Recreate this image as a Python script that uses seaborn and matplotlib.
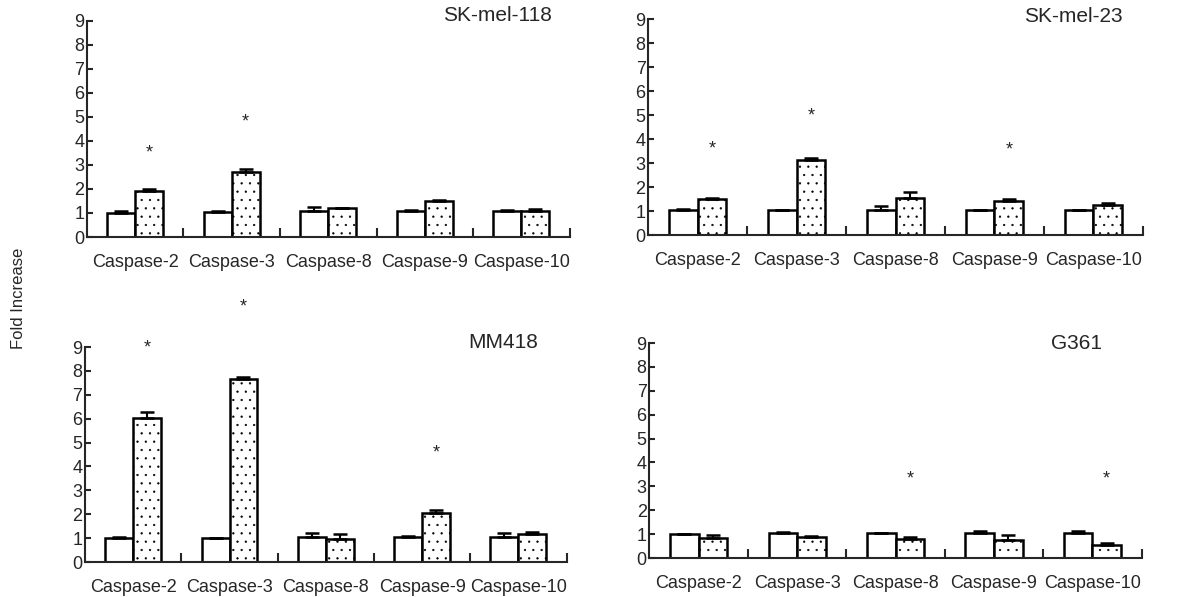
import numpy as np
import pandas as pd
import matplotlib
matplotlib.use('Agg')
import matplotlib.pyplot as plt
import seaborn as sns

# ---- data ----
caspases = ['Caspase-2', 'Caspase-3', 'Caspase-8', 'Caspase-9', 'Caspase-10']
cell_lines = ['SK-mel-118', 'SK-mel-23', 'MM418', 'G361']

control_vals = {
    'SK-mel-118': [1.02, 1.05, 1.07, 1.09, 1.10],
    'SK-mel-23':  [1.03, 1.03, 1.05, 1.05, 1.05],
    'MM418':      [1.00, 1.00, 1.03, 1.05, 1.05],
    'G361':       [1.00, 1.03, 1.03, 1.03, 1.04],
}
control_err = {
    'SK-mel-118': [0.05, 0.05, 0.18, 0.05, 0.01],
    'SK-mel-23':  [0.05, 0.02, 0.15, 0.02, 0.02],
    'MM418':      [0.03, 0.02, 0.17, 0.04, 0.15],
    'G361':       [0.02, 0.08, 0.02, 0.10, 0.10],
}
treated_vals = {
    'SK-mel-118': [1.90, 2.69, 1.19, 1.50, 1.10],
    'SK-mel-23':  [1.51, 3.12, 1.53, 1.43, 1.26],
    'MM418':      [6.05, 7.66, 0.98, 2.04, 1.17],
    'G361':       [0.82, 0.86, 0.79, 0.76, 0.56],
}
treated_err = {
    'SK-mel-118': [0.10, 0.13, 0.02, 0.05, 0.05],
    'SK-mel-23':  [0.05, 0.10, 0.25, 0.07, 0.10],
    'MM418':      [0.22, 0.08, 0.20, 0.12, 0.07],
    'G361':       [0.15, 0.05, 0.07, 0.20, 0.05],
}
# height of the significance star above each treated bar (nan = no star)
star_y = {
    'SK-mel-118': [3.5, 4.8, np.nan, np.nan, np.nan],
    'SK-mel-23':  [3.6, 4.97, np.nan, 3.55, np.nan],
    'MM418':      [8.95, 10.67, np.nan, 4.56, np.nan],
    'G361':       [np.nan, np.nan, 3.3, np.nan, 3.3],
}

# ---- layout ----
axes_pos = {
    'SK-mel-118': [0.0735, 0.603, 0.408, 0.362],
    'SK-mel-23':  [0.548, 0.606, 0.418, 0.362],
    'MM418':      [0.0719, 0.0586, 0.407, 0.360],
    'G361':       [0.549, 0.0653, 0.416, 0.360],
}
title_pos = {
    'SK-mel-118': (0.963, 1.023),
    'SK-mel-23':  (0.960, 1.01),
    'MM418':      (0.940, 1.02),
    'G361':       (0.919, 1.0),
}

sns.set_style('ticks')
plt.rcParams['font.family'] = ['Liberation Sans', 'DejaVu Sans']
plt.rcParams['hatch.linewidth'] = 0.4
plt.rcParams['hatch.color'] = 'black'

fig = plt.figure(figsize=(11.83, 5.97), dpi=100)

for cell in cell_lines:
    ax = fig.add_axes(axes_pos[cell])
    df = pd.DataFrame({
        'caspase': caspases * 2,
        'group': ['control'] * 5 + ['treated'] * 5,
        'value': control_vals[cell] + treated_vals[cell],
    })
    sns.barplot(data=df, x='caspase', y='value', hue='group', order=caspases,
                palette=['white', 'white'], edgecolor='black', linewidth=1.8,
                width=0.58, legend=False, errorbar=None, ax=ax, zorder=2)

    errs = [control_err[cell], treated_err[cell]]
    bar_conts = list(ax.containers)
    for k, cont in enumerate(bar_conts):
        xs = [p.get_x() + p.get_width() / 2 for p in cont]
        hs = [p.get_height() for p in cont]
        if k == 1:
            for p in cont:
                p.set_hatch('..')
        ax.errorbar(xs, hs, yerr=[np.zeros(5), errs[k]], fmt='none',
                    ecolor='black', elinewidth=1.5, capsize=5, capthick=1.8, zorder=3)
        if k == 1:
            for x, s in zip(xs, star_y[cell]):
                if not np.isnan(s):
                    ax.text(x, s, '*', ha='center', va='center', fontsize=13,
                            clip_on=False)

    ax.set_ylim(0, 9)
    ax.set_xlim(-0.5, 4.5)
    ax.set_yticks(range(10))
    ax.set_xlabel('')
    ax.set_ylabel('')
    sns.despine(ax=ax)
    for sp in ['left', 'bottom']:
        ax.spines[sp].set_linewidth(1.5)
    ax.set_xticks([0.5, 1.5, 2.5, 3.5, 4.5], minor=True)
    ax.tick_params(axis='x', which='major', length=0, pad=12, labelsize=13)
    ax.tick_params(axis='x', which='minor', direction='in', length=6.5, width=1.5)
    ax.tick_params(axis='y', direction='in', length=4, width=1.5, pad=2,
                   labelsize=13)
    tx, ty = title_pos[cell]
    ax.text(tx, ty, cell, transform=ax.transAxes, ha='right', va='center',
            fontsize=15)

fig.text(0.016, 0.5, 'Fold Increase', rotation=90, ha='center', va='center',
         fontsize=12)

fig.savefig('out.png', dpi=100)
